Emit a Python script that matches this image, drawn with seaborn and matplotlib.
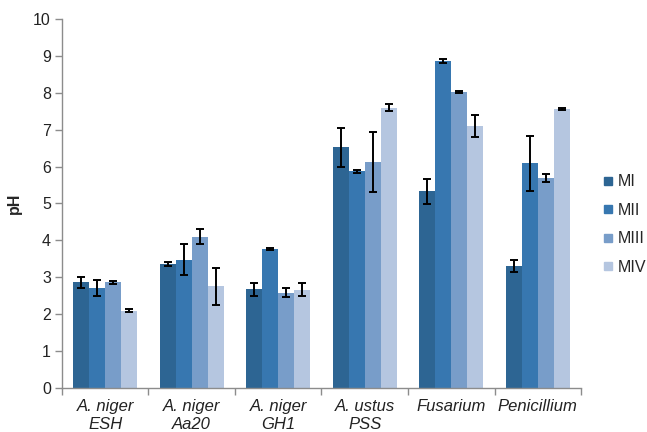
import numpy as np
import pandas as pd
import matplotlib
matplotlib.use("Agg")
import matplotlib.pyplot as plt
from matplotlib.lines import Line2D
import seaborn as sns

# Strains and media
strains = ["A. niger\nESH", "A. niger\nAa20", "A. niger\nGH1", "A. ustus\nPSS", "Fusarium", "Penicillium"]
media = ["MI", "MII", "MIII", "MIV"]

# Mean pH per medium (one value per strain)
ph_mi   = [2.87, 3.36, 2.67, 6.52, 5.33, 3.30]
ph_mii  = [2.70, 3.48, 3.77, 5.87, 8.87, 6.09]
ph_miii = [2.86, 4.10, 2.58, 6.12, 8.02, 5.69]
ph_miv  = [2.09, 2.75, 2.66, 7.60, 7.10, 7.56]

# Standard deviations
sd_mi   = [0.15, 0.06, 0.18, 0.52, 0.34, 0.16]
sd_mii  = [0.22, 0.42, 0.03, 0.04, 0.05, 0.75]
sd_miii = [0.05, 0.20, 0.12, 0.82, 0.03, 0.12]
sd_miv  = [0.04, 0.50, 0.18, 0.09, 0.29, 0.03]

colors = ["#2d6593", "#3777b0", "#789dc9", "#b5c6e0"]

means = [ph_mi, ph_mii, ph_miii, ph_miv]
sds = [sd_mi, sd_mii, sd_miii, sd_miv]

df = pd.DataFrame({
    "strain": np.tile(strains, len(media)),
    "medium": np.repeat(media, len(strains)),
    "pH": np.concatenate(means),
})

sns.set_style("white")
plt.rcParams["font.family"] = ["Liberation Sans", "DejaVu Sans"]

fig = plt.figure(figsize=(6.47, 4.32), dpi=100)
ax = fig.add_axes([0.0958, 0.102, 0.8022, 0.854])

sns.barplot(data=df, x="strain", y="pH", hue="medium", order=strains,
            hue_order=media, palette=colors, errorbar=None, width=0.74,
            saturation=1, linewidth=0, ax=ax, legend=False)

# error bars on top of each bar
for cont, sd in zip(ax.containers, sds):
    xs = [p.get_x() + p.get_width() / 2 for p in cont]
    hs = [p.get_height() for p in cont]
    ax.errorbar(xs, hs, yerr=sd, fmt="none", ecolor="black",
                elinewidth=1.4, capsize=3.2, capthick=1.4, zorder=5)

ax.set_ylim(0, 10)
ax.set_xlim(-0.5, len(strains) - 0.5)
ax.set_yticks(range(0, 11))
ax.set_xlabel("")
ax.set_ylabel("pH", fontsize=11.5, fontweight="bold", labelpad=8)

for side in ["top", "right"]:
    ax.spines[side].set_visible(False)
for side in ["left", "bottom"]:
    ax.spines[side].set_color("#8c8c8c")
    ax.spines[side].set_linewidth(1.0)

ax.tick_params(axis="y", which="major", length=5, width=1, color="#8c8c8c",
               labelsize=11.5, labelcolor="#222222", pad=3, left=True, direction="out")
ax.set_xticks(range(len(strains)))
ax.set_xticklabels(strains, fontsize=12, style="italic", color="#222222", linespacing=1.22)
ax.tick_params(axis="x", which="major", length=0, pad=8)
ax.set_xticks(np.arange(-0.5, len(strains)), minor=True)
ax.tick_params(axis="x", which="minor", length=5, width=1, color="#8c8c8c",
               bottom=True, direction="out")

handles = [Line2D([], [], marker="s", linestyle="none", markersize=6.2,
                  markerfacecolor=c, markeredgecolor=c) for c in colors]
fig.legend(handles, media, loc="center left", bbox_to_anchor=(0.933, 0.480),
           frameon=False, fontsize=11.5, handlelength=0.6, handletextpad=0.3,
           labelspacing=0.85, borderpad=0, borderaxespad=0)

fig.savefig("out.png", dpi=100)
